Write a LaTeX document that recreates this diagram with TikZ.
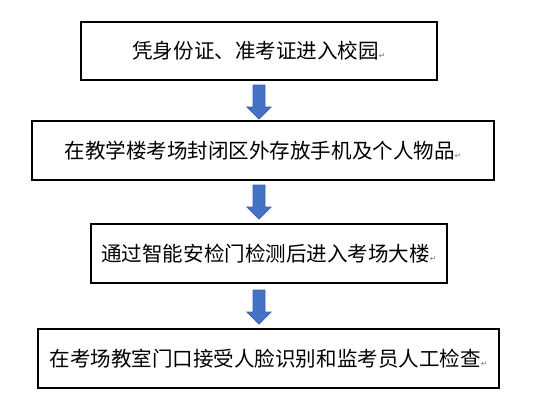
\documentclass[tikz,border=0pt]{standalone}
\usepackage{fontspec}
\setmainfont{Noto Sans CJK SC}
\newfontfamily\symfont{DejaVu Sans}
\begin{document}
\begin{tikzpicture}[x=0.75pt,y=-0.75pt,
  stepbox/.style={draw=black,line width=1pt,inner sep=0pt,font=\fontsize{15.4pt}{18pt}\selectfont},
  blockarrow/.style={fill=arrowfill,draw=arrowdraw,line width=0.6pt}]
\definecolor{arrowfill}{HTML}{4472C4}
\definecolor{arrowdraw}{HTML}{3A62AC}
\useasboundingbox (0,0) rectangle (542,418);
\newcommand{\retmark}{{\symfont\fontsize{6pt}{6pt}\selectfont\color{gray}↵}}
\node[stepbox,minimum width=356*0.75pt,minimum height=58*0.75pt] (b1) at (259,51) {凭身份证、准考证进入校园\retmark};
\node[stepbox,minimum width=462*0.75pt,minimum height=59*0.75pt] (b2) at (263,150.5) {在教学楼考场封闭区外存放手机及个人物品\retmark};
\node[stepbox,minimum width=356*0.75pt,minimum height=59*0.75pt] (b3) at (269,253.5) {通过智能安检门检测后进入考场大楼\retmark};
\node[stepbox,minimum width=461*0.75pt,minimum height=59*0.75pt] (b4) at (268.5,358.5) {在考场教室门口接受人脸识别和监考员人工检查\retmark};
% block arrows
\foreach \t/\n in {85/a1,185/a2,290/a3}{
  \path[blockarrow] (253,\t) -- (265,\t) -- (265,\t+22) -- (271,\t+22) -- (259,\t+34) -- (247,\t+22) -- (253,\t+22) -- cycle;
}
\end{tikzpicture}
\end{document}
